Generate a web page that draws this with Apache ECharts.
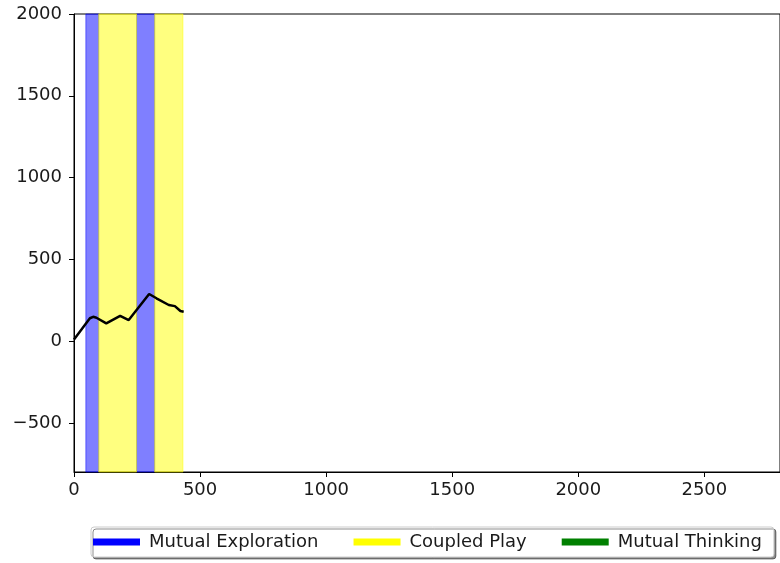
<!DOCTYPE html>
<html>
<head>
<meta charset="utf-8">
<script src="https://cdn.jsdelivr.net/npm/echarts@6/dist/echarts.min.js"></script>
<style>
  html, body { margin: 0; padding: 0; background: #fff; }
  #chart { width: 780px; height: 563px; }
</style>
</head>
<body>
<div id="chart"></div>
<script>
// Interaction phases shown as shaded vertical spans [start, end]
const explorationSpans = [[47, 98], [248, 320]];
const coupledPlaySpans = [[98, 248], [320, 432]];
const thinkingSpans = [];

// Cumulative score trace: [time, value]
const traceX = [0, 63, 76, 89, 128, 183, 217, 298, 327, 376, 400, 422, 435];
const traceY = [10, 140, 149, 143, 109, 155, 129, 288, 262, 221, 214, 184, 180];

// Axis ranges and tick labels
const xTicks = [0, 500, 1000, 1500, 2000, 2500];
const yTicks = [-500, 0, 500, 1000, 1500, 2000];
const xRange = [0, 2800];
const yRange = [-800, 2000];

const phaseNames = ['Mutual Exploration', 'Coupled Play', 'Mutual Thinking'];
const phaseColors = ['#0000ff', '#ffff00', '#008000'];
const phaseFills = ['rgba(0,0,255,0.5)', 'rgba(255,255,0,0.5)', 'rgba(0,128,0,0.5)'];
const phaseSpans = [explorationSpans, coupledPlaySpans, thinkingSpans];

const font = 'DejaVu Sans';
const fontSize = 18;
const minus = v => String(v).replace('-', '\u2212');

const phaseSeries = phaseNames.map((name, i) => ({
  name: name,
  type: 'line',
  data: [],
  color: phaseColors[i],
  itemStyle: { color: phaseColors[i] },
  lineStyle: { color: phaseColors[i] },
  silent: true,
  markArea: {
    silent: true,
    itemStyle: {
      color: phaseFills[i],
      borderColor: phaseFills[i],
      borderWidth: 1
    },
    data: phaseSpans[i].map(s => [{ xAxis: s[0] }, { xAxis: s[1] }])
  }
}));

const chart = echarts.init(document.getElementById('chart'), null, { renderer: 'canvas' });
chart.setOption({
  animation: false,
  backgroundColor: '#fff',
  grid: {
    left: 74, top: 14, bottom: 91, right: -8.2,
    show: true, borderColor: '#000', borderWidth: 1,
    backgroundColor: 'transparent'
  },
  xAxis: {
    type: 'value',
    min: xRange[0], max: xRange[1],
    splitLine: { show: false },
    axisLine: { show: true, onZero: false, lineStyle: { color: '#000', width: 1 } },
    axisTick: { show: true, inside: false, length: 5, customValues: xTicks, lineStyle: { color: '#000' } },
    axisLabel: {
      customValues: xTicks, margin: 9, color: '#1a1a1a',
      fontFamily: font, fontSize: fontSize, formatter: minus
    }
  },
  yAxis: {
    type: 'value',
    min: yRange[0], max: yRange[1],
    splitLine: { show: false },
    axisLine: { show: true, onZero: false, lineStyle: { color: '#000', width: 1 } },
    axisTick: { show: true, inside: false, length: 5, customValues: yTicks, lineStyle: { color: '#000' } },
    axisLabel: {
      customValues: yTicks, margin: 12, color: '#1a1a1a',
      fontFamily: font, fontSize: fontSize, formatter: minus
    }
  },
  legend: {
    data: phaseNames,
    left: 91, top: 527,
    orient: 'horizontal',
    icon: 'rect',
    itemWidth: 47, itemHeight: 7,
    itemGap: 35,
    padding: [6, 12, 6, 2],
    backgroundColor: '#fff',
    borderColor: '#cccccc', borderWidth: 1, borderRadius: 3,
    shadowColor: 'rgba(0,0,0,0.45)', shadowBlur: 0, shadowOffsetX: 2, shadowOffsetY: 2,
    selectedMode: false,
    textStyle: { fontFamily: font, fontSize: fontSize, color: '#1a1a1a', padding: [0, 0, 0, 4] }
  },
  series: phaseSeries.concat([{
    name: 'trace',
    type: 'line',
    data: traceX.map((x, i) => [x, traceY[i]]),
    showSymbol: false,
    symbol: 'none',
    lineStyle: { color: '#000', width: 2.5 },
    itemStyle: { color: '#000' },
    z: 5
  }])
});
</script>
</body>
</html>
